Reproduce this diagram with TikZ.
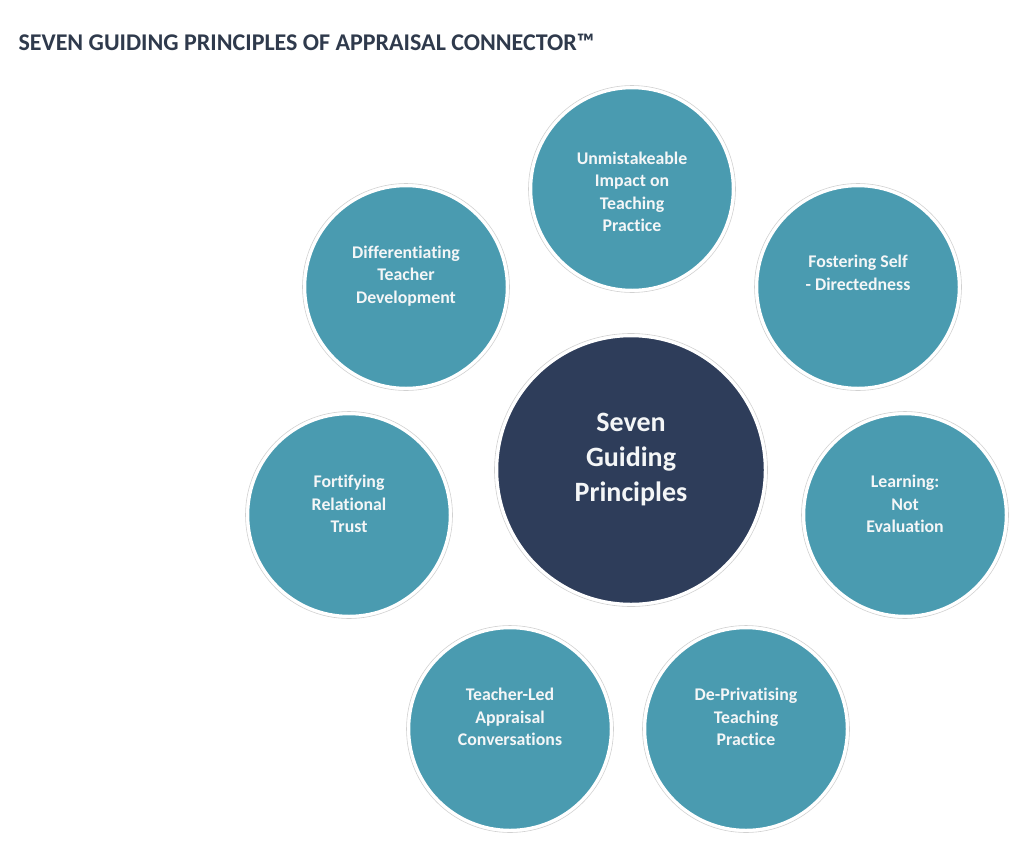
\documentclass[tikz,border=0pt]{standalone}
\usepackage{xcolor}
\definecolor{teal1}{HTML}{4A9BB0}
\definecolor{navy}{HTML}{2E3D5A}
\definecolor{titlecol}{HTML}{2F3A4C}
\definecolor{txtwhite}{HTML}{F4F6F7}
\usepackage{fontspec}
\setmainfont{Carlito}[Ligatures=NoCommon]
\usepackage{tikz}
\usetikzlibrary{positioning}
\tikzset{
    principle/.style = {circle, fill=teal1, draw=white, line width=2.5pt,
                        minimum size=202pt, inner sep=0pt},
    hub/.style = {circle, fill=navy, draw=white, line width=2.5pt,
                  minimum size=268pt, inner sep=0pt},
    ptext/.style = {align=center, text=txtwhite, inner sep=0pt,
                    font=\fontsize{17.8}{22.5}\selectfont\bfseries},
    htext/.style = {align=center, text=txtwhite, inner sep=0pt,
                    font=\fontsize{28}{35}\selectfont\bfseries},
    rim/.style = {draw=black!18, line width=0.6pt},
}

\begin{document}
\begin{tikzpicture}[x=1pt, y=-1pt]
        \useasboundingbox (0,0) rectangle (1024,865);
        \node[anchor=west, text=titlecol, font=\fontsize{24}{26}\selectfont\bfseries]
            (title) at (15,42) {SEVEN GUIDING PRINCIPLES OF APPRAISAL CONNECTOR™};
        % faint outer rims
        \foreach \cx/\cy in {632/189, 858/287, 905/515, 746/729, 510/729, 349/515, 406/287}
            \draw[rim] (\cx,\cy) circle (103.5);
        \draw[rim] (631,470) circle (136.5);
        % the seven principles
        \node[principle] (impact) at (632,189) {};
        \node[principle] (selfdir) at (858,287) {};
        \node[principle] (learning) at (905,515) {};
        \node[principle] (depriv) at (746,729) {};
        \node[principle] (teacherled) at (510,729) {};
        \node[principle] (trust) at (349,515) {};
        \node[principle] (diff) at (406,287) {};
        \node[ptext] (impactT) at ([yshift=-3pt]impact.center) {Unmistakeable\\Impact on\\Teaching\\Practice};
        \node[ptext] (selfdirT) at ([yshift=14pt]selfdir.center) {Fostering Self\\- Directedness};
        \node[ptext] (learningT) at ([yshift=11pt]learning.center) {Learning:\\Not\\Evaluation};
        \node[ptext] (deprivT) at ([yshift=12pt]depriv.center) {De-Privatising\\Teaching\\Practice};
        \node[ptext] (teacherledT) at ([yshift=12pt]teacherled.center) {Teacher-Led\\Appraisal\\Conversations};
        \node[ptext] (trustT) at ([yshift=11pt]trust.center) {Fortifying\\Relational\\Trust};
        \node[ptext] (diffT) at ([yshift=11pt]diff.center) {Differentiating\\Teacher\\Development};
        % centre
        \node[hub] (centre) at (631,470) {};
        \node[htext] (centreT) at ([yshift=10pt]centre.center) {Seven\\Guiding\\Principles};
      \end{tikzpicture}
\end{document}
